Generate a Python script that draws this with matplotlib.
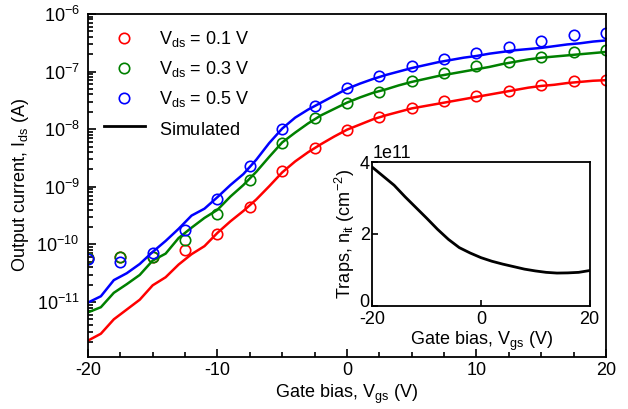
import numpy as np
import matplotlib
matplotlib.use("Agg")
import matplotlib.pyplot as plt
import matplotlib.transforms as mtransforms
from matplotlib.lines import Line2D
from matplotlib.ticker import LogLocator, MultipleLocator, NullFormatter

plt.rcParams['font.family'] = ['Liberation Sans', 'DejaVu Sans']
plt.rcParams['mathtext.fontset'] = 'custom'
plt.rcParams['mathtext.rm'] = 'Liberation Sans'
plt.rcParams['mathtext.it'] = 'Liberation Sans'
plt.rcParams['axes.unicode_minus'] = False

# Simulated curves (log10 of current), Vgs from -20 to 20 V in 1 V steps
vgs_sim = list(range(-20, 21))
sim_01 = [-11.67, -11.55, -11.30, -11.13, -10.96, -10.71, -10.57, -10.35, -10.17, -10.03,
          -9.80, -9.60, -9.42, -9.22, -8.99, -8.75, -8.56, -8.40, -8.26, -8.13,
          -8.01, -7.92, -7.83, -7.76, -7.70, -7.64, -7.60, -7.56, -7.52, -7.48,
          -7.44, -7.40, -7.36, -7.32, -7.28, -7.25, -7.23, -7.20, -7.18, -7.16, -7.15]
sim_03 = [-11.18, -11.09, -10.84, -10.69, -10.53, -10.28, -10.16, -9.89, -9.71, -9.54,
          -9.40, -9.17, -8.97, -8.74, -8.48, -8.23, -8.06, -7.90, -7.76, -7.65,
          -7.54, -7.45, -7.37, -7.31, -7.24, -7.18, -7.13, -7.08, -7.04, -7.00,
          -6.96, -6.92, -6.87, -6.83, -6.79, -6.76, -6.74, -6.72, -6.70, -6.68, -6.66]
sim_05 = [-11.01, -10.90, -10.62, -10.50, -10.34, -10.13, -9.94, -9.73, -9.50, -9.38,
          -9.18, -8.97, -8.78, -8.53, -8.24, -7.99, -7.80, -7.66, -7.54, -7.42,
          -7.30, -7.21, -7.13, -7.06, -7.00, -6.94, -6.89, -6.84, -6.80, -6.76,
          -6.73, -6.69, -6.66, -6.63, -6.61, -6.59, -6.56, -6.53, -6.51, -6.48, -6.46]

# Measured points (log10 of current), Vgs in 2.5 V steps
vgs_meas = [-20, -17.5, -15, -12.5, -10, -7.5, -5, -2.5, 0, 2.5, 5, 7.5, 10, 12.5, 15, 17.5, 20]
meas_01 = [-10.24, -10.21, -10.21, -10.10, -9.82, -9.35, -8.72, -8.33, -8.02, -7.79, -7.64,
           -7.52, -7.43, -7.34, -7.24, -7.17, -7.155]
meas_03 = [-10.24, -10.21, -10.21, -9.92, -9.48, -8.88, -8.24, -7.81, -7.55, -7.35, -7.17,
           -7.03, -6.91, -6.83, -6.74, -6.66, -6.62]
meas_05 = [-10.26, -10.30, -10.15, -9.75, -9.21, -8.64, -8.00, -7.60, -7.29, -7.07, -6.91,
           -6.78, -6.67, -6.57, -6.47, -6.36, -6.33]

labels = ['V$_{\\rm ds}$ = 0.1 V', 'V$_{\\rm ds}$ = 0.3 V', 'V$_{\\rm ds}$ = 0.5 V']
colors = ['#ff0000', '#008000', '#0000ff']

# Inset: trap density (units of 1e11 cm^-2)
vgs_trap = [-20, -18, -16, -14, -12, -10, -8, -6, -4, -2, 0, 2, 4, 6, 8, 10, 12, 14, 16, 18, 20]
traps = [3.86, 3.61, 3.36, 3.04, 2.74, 2.44, 2.13, 1.85, 1.62, 1.47, 1.34, 1.24, 1.16, 1.09,
         1.02, 0.97, 0.93, 0.91, 0.915, 0.93, 0.98]

fig = plt.figure(figsize=(6.28, 4.09), dpi=100)
ax = fig.add_axes([0.140, 0.127, 0.825, 0.839])

for sim, meas, c, lab in zip([sim_01, sim_03, sim_05], [meas_01, meas_03, meas_05], colors, labels):
    ax.plot(vgs_sim, 10.0 ** np.array(sim), color=c, lw=1.8)
    ax.plot(vgs_meas, 10.0 ** np.array(meas), 'o', mfc='none', mec=c, ms=7.5, mew=1.2, label=lab)

ax.set_yscale('log')
ax.set_xlim(-20, 20)
ax.set_ylim(10 ** -11.955, 1e-6)
ax.set_yticks([1e-11, 1e-10, 1e-9, 1e-8, 1e-7, 1e-6])
ax.yaxis.set_minor_locator(LogLocator(base=10, subs=np.arange(2, 10), numticks=20))
ax.yaxis.set_minor_formatter(NullFormatter())
ax.xaxis.set_major_locator(MultipleLocator(10))
ax.xaxis.set_minor_locator(MultipleLocator(2.5))
ax.tick_params(which='both', direction='in', labelsize=13, width=1.2)
ax.tick_params(which='major', length=6)
ax.tick_params(which='minor', length=3.5)
ax.tick_params(axis='y', which='major', pad=6)
for s in ax.spines.values():
    s.set_linewidth(1.3)
ax.set_xlabel('Gate bias, V$_{\\rm gs}$ (V)', fontsize=13, labelpad=3)
ax.set_ylabel('Output current, I$_{\\rm ds}$ (A)', fontsize=13, labelpad=4)

handles, labs = ax.get_legend_handles_labels()
handles.append(Line2D([], [], color='black', lw=2))
labs.append('Simulated$_{\\rm\\ }$')
ax.legend(handles, labs, loc='upper left', bbox_to_anchor=(0.006, 0.993), frameon=False,
          fontsize=13, handlelength=2.3, handletextpad=0.75, labelspacing=0.56, borderaxespad=0.3)

ins = fig.add_axes([0.593, 0.2526, 0.3458, 0.3506])
ins.plot(vgs_trap, np.array(traps) * 1e11, color='black', lw=2)
ins.set_xlim(-20, 20)
ins.set_ylim(0, 4e11)
ins.set_xticks([-20, 0, 20])
ins.set_yticks([0, 2e11, 4e11])
ins.tick_params(direction='in', labelsize=13, length=4, width=1.2, pad=2)
ins.tick_params(axis='x', pad=4)
for s in ins.spines.values():
    s.set_linewidth(1.3)
ins.set_xlabel('Gate bias, V$_{\\rm gs}$ (V)', fontsize=13, labelpad=1)
ins.set_ylabel('Traps, n$_{\\rm it}$ (cm$^{-2}$)', fontsize=13, labelpad=2)
ins.yaxis.get_offset_text().set_fontsize(13)

# nudge the inset's lowest y tick label up a little so it clears the "-20" label
fig.canvas.draw()
shift = mtransforms.ScaledTranslation(0, 4 / 72, fig.dpi_scale_trans)
lab0 = ins.yaxis.get_majorticklabels()[0]
lab0.set_transform(lab0.get_transform() + shift)

fig.savefig('out.png', dpi=100)
